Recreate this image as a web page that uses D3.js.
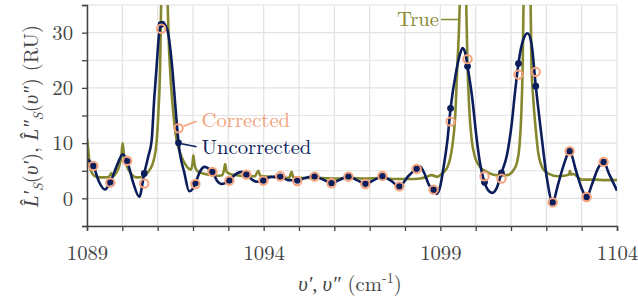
<!DOCTYPE html>
<html>
<head>
<meta charset="utf-8">
<script src="https://cdn.jsdelivr.net/npm/d3@7"></script>
<style>
    body { margin: 0; background: #fff; }
</style>
</head>
<body>
<div id="chart"></div>
<script>
// sample wavenumbers (cm-1) where both spectra were measured
const sampleX = [1089.18, 1089.66, 1090.14, 1090.62, 1091.10, 1091.59, 1092.07, 1092.55, 1093.03, 1093.51,
    1093.99, 1094.47, 1094.95, 1095.44, 1095.92, 1096.40, 1096.88, 1097.36, 1097.84, 1098.33,
    1098.81, 1099.29, 1099.77, 1100.25, 1100.73, 1101.21, 1101.70, 1102.18, 1102.66, 1103.14, 1103.62];

const uncorrected = [5.87, 2.96, 6.7, 4.5, 31.5, 10.05, 2.8, 4.8, 3.27, 4.36,
    3.27, 3.9, 3.27, 4.0, 2.8, 4.0, 2.67, 4.0, 2.18, 5.4,
    1.58, 16.3, 23.9, 2.9, 4.6, 24.4, 20.3, -0.73, 8.55, 0.24, 6.6];

const corrected = [5.87, 2.85, 6.8, 2.7, 30.7, 12.7, 2.6, 4.8, 3.2, 4.3,
    3.2, 4.0, 3.15, 3.94, 2.73, 3.94, 2.6, 4.06, 2.18, 5.33,
    1.58, 13.9, 25.2, 4.0, 3.58, 22.4, 22.9, -0.73, 8.55, 0.24, 6.6];

// reconstructed (interpolated) uncorrected spectrum
const uncorrectedCurve = [
    [1089.00, 7.1], [1089.18, 5.87], [1089.34, 3.0], [1089.51, 1.6], [1089.66, 2.96], [1089.85, 6.0],
    [1090.01, 8.0], [1090.14, 6.7], [1090.30, 3.0], [1090.48, 0.3], [1090.62, 4.5], [1090.73, 7.5],
    [1090.83, 10.5], [1090.90, 17.8], [1090.97, 23.8], [1091.04, 29.8], [1091.10, 31.5], [1091.14, 31.9],
    [1091.21, 31.4], [1091.30, 29.8], [1091.41, 23.8], [1091.51, 16.0], [1091.59, 10.05], [1091.76, 4.5],
    [1091.89, 1.3], [1092.00, 1.8], [1092.07, 2.8], [1092.21, 5.0],
    [1092.33, 5.7], [1092.44, 5.4], [1092.55, 4.8], [1092.68, 3.2], [1092.81, 2.6], [1092.92, 2.8],
    [1093.03, 3.27], [1093.19, 4.3], [1093.37, 4.8], [1093.51, 4.36], [1093.67, 3.4], [1093.83, 3.0],
    [1093.99, 3.27], [1094.21, 3.9], [1094.47, 3.9], [1094.69, 3.3], [1094.95, 3.27], [1095.17, 3.7],
    [1095.44, 4.0], [1095.65, 3.5], [1095.92, 2.8], [1096.13, 3.3], [1096.40, 4.0], [1096.61, 3.4],
    [1096.88, 2.67], [1097.12, 3.3], [1097.36, 4.0], [1097.60, 3.2], [1097.84, 2.18], [1098.09, 4.0],
    [1098.33, 5.4], [1098.42, 5.8], [1098.55, 4.5], [1098.68, 2.4], [1098.81, 1.58], [1098.89, 0.8],
    [1098.99, 2.0], [1099.10, 6.0], [1099.20, 10.5], [1099.29, 16.3], [1099.45, 23.0], [1099.56, 26.2],
    [1099.63, 27.2], [1099.71, 26.2], [1099.77, 23.9], [1099.91, 17.8], [1100.01, 11.8], [1100.11, 6.9],
    [1100.25, 2.9], [1100.38, 1.3], [1100.48, 1.0], [1100.59, 1.8], [1100.73, 4.6], [1100.89, 8.0],
    [1101.02, 13.5], [1101.11, 19.0], [1101.21, 24.4], [1101.35, 28.8], [1101.47, 29.9], [1101.58, 28.0],
    [1101.70, 20.4], [1101.87, 11.0], [1102.01, 3.9], [1102.18, -0.73], [1102.33, 2.5], [1102.50, 6.2],
    [1102.66, 8.55], [1102.84, 5.0], [1103.00, 1.8], [1103.14, 0.24], [1103.29, 2.5], [1103.46, 5.4],
    [1103.62, 6.6], [1103.77, 4.5], [1103.89, 2.9], [1104.00, 1.4]
];

// true spectrum, narrow lines run off the top of the axes
const trueCurve = [
    [1089.00, 10.9], [1089.04, 8.5], [1089.08, 6.0], [1089.14, 4.6], [1089.23, 4.0], [1089.37, 3.8],
    [1089.51, 3.8], [1089.62, 3.9], [1089.69, 4.6], [1089.74, 4.0], [1089.82, 4.6], [1089.91, 5.8],
    [1089.97, 7.5], [1090.01, 10.0], [1090.05, 7.5], [1090.12, 6.0], [1090.19, 5.0], [1090.27, 4.3],
    [1090.39, 3.8], [1090.50, 3.8], [1090.61, 4.2], [1090.73, 4.8], [1090.83, 5.8], [1090.90, 7.2],
    [1090.97, 10.2], [1091.02, 15.5], [1091.07, 24.0], [1091.10, 36.0], [1091.19, 60.0], [1091.28, 36.0],
    [1091.31, 29.0], [1091.35, 23.5], [1091.39, 19.5], [1091.45, 15.0], [1091.53, 10.8], [1091.63, 8.3],
    [1091.75, 6.5], [1091.86, 5.5], [1091.94, 5.2], [1091.99, 6.5], [1092.01, 7.8], [1092.04, 6.3],
    [1092.10, 5.1], [1092.20, 4.7], [1092.34, 4.4], [1092.45, 4.3], [1092.51, 5.3], [1092.55, 4.4],
    [1092.68, 4.1], [1092.82, 4.2], [1092.88, 5.2], [1092.91, 6.2], [1092.95, 4.8], [1093.10, 4.3],
    [1093.33, 4.1], [1093.56, 4.0], [1093.75, 4.0], [1093.85, 5.0], [1093.90, 4.1], [1094.18, 3.9],
    [1094.46, 3.8], [1094.72, 3.7], [1094.79, 4.8], [1094.84, 3.8], [1095.17, 3.7], [1095.59, 3.7],
    [1096.02, 3.6], [1096.44, 3.7], [1096.87, 3.6], [1097.29, 3.7], [1097.72, 3.5], [1098.14, 3.5],
    [1098.42, 3.6], [1098.57, 3.8], [1098.76, 4.2], [1098.91, 3.9], [1099.05, 4.5], [1099.18, 5.4],
    [1099.27, 7.0], [1099.34, 9.5], [1099.42, 14.8], [1099.48, 23.9], [1099.54, 33.0], [1099.64, 70.0],
    [1099.74, 33.0], [1099.77, 24.0], [1099.82, 16.0], [1099.89, 10.5], [1099.98, 7.5], [1100.12, 5.7],
    [1100.31, 4.8], [1100.60, 4.2], [1100.88, 4.2], [1101.07, 5.1], [1101.17, 6.5], [1101.24, 9.5],
    [1101.29, 15.0], [1101.33, 24.0], [1101.35, 33.0], [1101.45, 70.0], [1101.56, 33.0], [1101.58, 24.0],
    [1101.63, 18.0], [1101.70, 12.5], [1101.77, 8.3], [1101.91, 5.3], [1102.06, 4.5], [1102.34, 4.0],
    [1102.58, 4.2], [1102.64, 4.3], [1102.67, 5.0], [1102.70, 4.3], [1102.76, 4.4], [1103.00, 3.4],
    [1103.38, 3.4], [1103.66, 3.3], [1104.00, 3.3]
];

const xTickLabels = [1089, 1094, 1099, 1104];
const yTickLabels = [0, 10, 20, 30];

const colors = { "true": "#86882f", "uncorrected": "#0b1d5b", "corrected": "#f4a37c" };

const FONT = 'Latin Modern Roman';
const FONT_HAT = 'Liberation Serif';
const FS = 20.7;

const width = 638, height = 300;
const margin = { top: 5, right: 21, bottom: 74, left: 87 };

const svg = d3.select('#chart')
    .append('svg')
    .attr('width', width)
    .attr('height', height)
    .attr('font-family', FONT);

const xScale = d3.scaleLinear()
    .domain([1089, 1104])
    .range([margin.left, width - margin.right]);

const yScale = d3.scaleLinear()
    .domain([-5, 35])
    .range([height - margin.bottom, margin.top]);

svg.append('clipPath')
    .attr('id', 'plot-clip')
    .append('rect')
    .attr('x', margin.left)
    .attr('y', margin.top)
    .attr('width', width - margin.left - margin.right)
    .attr('height', height - margin.top - margin.bottom);

// Grid
let grid = svg.append('g').attr('id', 'grid')
    .attr('stroke', '#e2e2e2')
    .attr('stroke-width', 1.2);

grid.selectAll('line.vx')
    .data(d3.range(1089, 1105))
    .join('line')
        .attr('class', 'vx')
        .attr('x1', d => xScale(d)).attr('x2', d => xScale(d))
        .attr('y1', yScale(-5)).attr('y2', yScale(35));

grid.selectAll('line.hy')
    .data(d3.range(-5, 36, 5))
    .join('line')
        .attr('class', 'hy')
        .attr('x1', xScale(1089)).attr('x2', xScale(1104))
        .attr('y1', d => yScale(d)).attr('y2', d => yScale(d));

// Lines
let lines = svg.append('g').attr('clip-path', 'url(#plot-clip)');

let line = d3.line()
    .x(d => xScale(d[0]))
    .y(d => yScale(d[1]))
    .curve(d3.curveMonotoneX);

lines.append('path')
    .attr('d', line(trueCurve))
    .attr('fill', 'none')
    .attr('stroke', colors.true)
    .attr('stroke-width', 2.6)
    .attr('stroke-linejoin', 'round');

lines.append('path')
    .attr('d', line(uncorrectedCurve))
    .attr('fill', 'none')
    .attr('stroke', colors.uncorrected)
    .attr('stroke-width', 2.6)
    .attr('stroke-linejoin', 'round');

// Markers
svg.append('g')
    .selectAll('circle')
    .data(sampleX)
    .join('circle')
        .attr('cx', d => xScale(d))
        .attr('cy', (d, i) => yScale(uncorrected[i]))
        .attr('r', 3.4)
        .attr('fill', colors.uncorrected);

svg.append('g')
    .selectAll('circle')
    .data(sampleX)
    .join('circle')
        .attr('cx', d => xScale(d))
        .attr('cy', (d, i) => yScale(corrected[i]))
        .attr('r', 4.2)
        .attr('fill', 'none')
        .attr('stroke', colors.corrected)
        .attr('stroke-width', 2);

// Axes
let xAxis = d3.axisBottom(xScale)
    .tickValues(d3.range(1089, 1105))
    .tickSize(5)
    .tickPadding(14)
    .tickFormat(d => xTickLabels.includes(d) ? d : '');

let yAxis = d3.axisLeft(yScale)
    .tickValues(d3.range(-5, 36, 5))
    .tickSize(5)
    .tickPadding(9)
    .tickFormat(d => yTickLabels.includes(d) ? d : '');

let gx = svg.append('g')
    .attr('transform', `translate(0, ${height - margin.bottom})`)
    .call(xAxis);

let gy = svg.append('g')
    .attr('transform', `translate(${margin.left}, 0)`)
    .call(yAxis);

[gx, gy].forEach(g => {
    g.attr('font-family', FONT).attr('font-size', FS);
    g.select('.domain').attr('stroke', '#444').attr('stroke-width', 1.5);
    g.selectAll('.tick line').attr('stroke', '#444').attr('stroke-width', 1.3);
    g.selectAll('.tick text').attr('fill', '#444');
});

// Axis titles
let xTitle = svg.append('text')
    .attr('x', 350)
    .attr('y', 291)
    .attr('text-anchor', 'middle')
    .attr('fill', '#444')
    .attr('font-size', FS);
xTitle.append('tspan').attr('font-family', FONT_HAT).attr('font-style', 'italic').text('υ′, υ″');
xTitle.append('tspan').text(' (cm');
xTitle.append('tspan').attr('dy', -8).attr('font-size', 14).text('-1');
xTitle.append('tspan').attr('dy', 8).text(')');

let yTitle = svg.append('text')
    .attr('transform', 'translate(38, 116) rotate(-90)')
    .attr('text-anchor', 'middle')
    .attr('fill', '#444')
    .attr('font-size', FS);
yTitle.append('tspan').attr('font-family', FONT_HAT).attr('font-style', 'italic').text('L\u0302′');
yTitle.append('tspan').attr('dy', 5).attr('font-size', 14).attr('font-style', 'italic').text('S');
yTitle.append('tspan').attr('dy', -5).text('(');
yTitle.append('tspan').attr('font-family', FONT_HAT).attr('font-style', 'italic').text('υ′');
yTitle.append('tspan').text('), ');
yTitle.append('tspan').attr('font-family', FONT_HAT).attr('font-style', 'italic').text('L\u0302″');
yTitle.append('tspan').attr('dy', 5).attr('font-size', 14).attr('font-style', 'italic').text('S');
yTitle.append('tspan').attr('dy', -5).text('(');
yTitle.append('tspan').attr('font-family', FONT_HAT).attr('font-style', 'italic').text('υ″');
yTitle.append('tspan').text(') (RU)');

// Labels pointing at the curves
let cx = xScale(sampleX[5]);
let cyC = yScale(corrected[5]);
let cyU = yScale(uncorrected[5]);

svg.append('line')
    .attr('x1', cx + 5).attr('y1', cyC - 2)
    .attr('x2', cx + 18).attr('y2', cyC - 7)
    .attr('stroke', colors.corrected).attr('stroke-width', 1.5);

svg.append('text')
    .attr('x', cx + 23).attr('y', cyC - 1.5)
    .attr('fill', colors.corrected)
    .attr('font-size', FS)
    .text('Corrected');

svg.append('line')
    .attr('x1', cx + 3).attr('y1', cyU + 1)
    .attr('x2', cx + 18).attr('y2', cyU + 4)
    .attr('stroke', colors.uncorrected).attr('stroke-width', 1.5);

svg.append('text')
    .attr('x', cx + 23).attr('y', cyU + 11)
    .attr('fill', colors.uncorrected)
    .attr('font-size', FS)
    .text('Uncorrected');

let tx = xScale(1099.64);
svg.append('line')
    .attr('x1', tx - 22).attr('y1', 19.5)
    .attr('x2', tx - 3).attr('y2', 19.5)
    .attr('stroke', colors.true).attr('stroke-width', 1.5);

svg.append('text')
    .attr('x', tx - 24).attr('y', 25.5)
    .attr('text-anchor', 'end')
    .attr('fill', colors.true)
    .attr('font-size', FS)
    .text('True');
</script>
</body>
</html>
